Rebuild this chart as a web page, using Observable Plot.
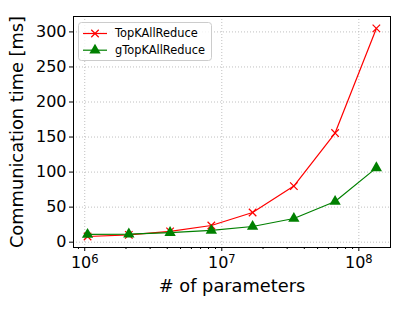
<!DOCTYPE html>
<html>
<head>
<meta charset="utf-8">
<script src="https://cdn.jsdelivr.net/npm/d3@7"></script>
<script src="https://cdn.jsdelivr.net/npm/@observablehq/plot@0.6"></script>
<style>
  html, body { margin: 0; padding: 0; background: #fff; }
  #wrap { position: relative; width: 407px; height: 309px; font-family: "DejaVu Sans", sans-serif; }
  #legend { position: absolute; left: 78px; top: 22px; }
</style>
</head>
<body>
<div id="wrap"></div>
<script>
// Data
const params = [1048576, 2097152, 4194304, 8388608, 16777216, 33554432, 67108864, 134217728];
const topK = [8.1, 10.5, 15.3, 23.8, 42.4, 80, 155.7, 305];
const gTopK = [11, 11.5, 13.6, 16.7, 22.4, 33.8, 58, 106];
const seriesNames = ["TopKAllReduce", "gTopKAllReduce"];
const seriesColors = ["#ff0000", "#008000"];
const yTicks = [0, 50, 100, 150, 200, 250, 300];
const xMajor = [1e6, 1e7, 1e8];
const xExponents = ["6", "7", "8"];
const xTitle = "# of parameters";
const yTitle = "Communication time [ms]";

const xDomain = [Math.pow(10, 5.918), Math.pow(10, 8.231)];
const xMinor = [];
for (let e = 5; e <= 8; e++) for (let m = 2; m <= 9; m++) {
  const v = m * Math.pow(10, e);
  if (v > xDomain[0] && v < xDomain[1]) xMinor.push(v);
}

const rowsA = params.map((p, i) => ({x: p, y: topK[i]}));
const rowsB = params.map((p, i) => ({x: p, y: gTopK[i]}));

const gridStyle = {stroke: "#b0b0b0", strokeOpacity: 1, strokeDasharray: "1,2", strokeWidth: 0.8};

const chart = Plot.plot({
  width: 407,
  height: 309,
  marginLeft: 73,
  marginRight: 17,
  marginTop: 16,
  marginBottom: 62,
  style: {fontFamily: "DejaVu Sans", fontSize: "16px", color: "#000", background: "#fff"},
  x: {type: "log", domain: xDomain},
  y: {domain: [-7.6, 322]},
  marks: [
    Plot.gridX(xMajor, gridStyle),
    Plot.gridY(yTicks, gridStyle),
    Plot.axisX({ticks: xMinor, tickSize: 2, tickFormat: () => "", label: null}),
    Plot.axisX({ticks: xMajor, tickSize: 4, tickPadding: 5, tickFormat: d => "EXP" + xExponents[xMajor.indexOf(d)],
      label: null, fontSize: 16}),
    Plot.axisY({ticks: yTicks, tickSize: 4, tickPadding: 3, tickFormat: d => String(d),
      label: null, fontSize: 16}),
    Plot.text([xTitle], {frameAnchor: "bottom", textAnchor: "middle", lineAnchor: "bottom", dy: 44, fontSize: 17.8, fill: "#000"}),
    Plot.text([yTitle], {frameAnchor: "left", textAnchor: "middle", lineAnchor: "bottom", rotate: -90, dx: -51, fontSize: 17.8, fill: "#000"}),
    Plot.line(rowsA, {x: "x", y: "y", stroke: seriesColors[0], strokeWidth: 1.2}),
    Plot.dot(rowsA, {x: "x", y: "y", symbol: "times", stroke: seriesColors[0], strokeWidth: 1.2, r: 3.5}),
    Plot.line(rowsB, {x: "x", y: "y", stroke: seriesColors[1], strokeWidth: 1.2}),
    Plot.dot(rowsB, {x: "x", y: "y", symbol: "triangle", fill: seriesColors[1], stroke: "none", r: 4.2}),
    Plot.frame({stroke: "#000", strokeWidth: 1})
  ]
});
document.getElementById("wrap").appendChild(chart);

// Render "10^n" tick labels with a real superscript
d3.select(chart).selectAll("text").each(function() {
  const t = this.textContent;
  if (t.startsWith("EXP")) {
    const exp = t.slice(3);
    const sel = d3.select(this);
    sel.text(null);
    sel.append("tspan").text("10");
    sel.append("tspan").attr("dy", "-0.45em").attr("font-size", "11.5px").text(exp);
  }
});

// Legend overlay (inside plot, upper left)
const lw = 133, lh = 38;
const leg = d3.select("#wrap").append("svg").attr("id", "legend")
  .attr("width", lw + 2).attr("height", lh + 2);
leg.append("rect").attr("x", 0.5).attr("y", 0.5).attr("width", lw).attr("height", lh)
  .attr("rx", 3).attr("fill", "#fff").attr("fill-opacity", 0.8).attr("stroke", "#cccccc");
seriesNames.forEach((name, i) => {
  const cy = 11.5 + i * 16.7;
  const g = leg.append("g");
  g.append("line").attr("x1", 5).attr("x2", 29).attr("y1", cy).attr("y2", cy)
    .attr("stroke", seriesColors[i]).attr("stroke-width", 1.2);
  if (i === 0) {
    g.append("path").attr("d", d3.symbol(d3.symbolTimes, Math.PI * 3.5 * 3.5)())
      .attr("transform", `translate(17,${cy})`).attr("stroke", seriesColors[i]).attr("stroke-width", 1.2).attr("fill", "none");
  } else {
    g.append("path").attr("d", d3.symbol(d3.symbolTriangle, Math.PI * 4.2 * 4.2)())
      .attr("transform", `translate(17,${cy})`).attr("fill", seriesColors[i]);
  }
  g.append("text").attr("x", 37).attr("y", cy).attr("dy", "0.35em")
    .attr("font-family", "DejaVu Sans").attr("font-size", "11.4px").attr("fill", "#000").text(name);
});
</script>
</body>
</html>
